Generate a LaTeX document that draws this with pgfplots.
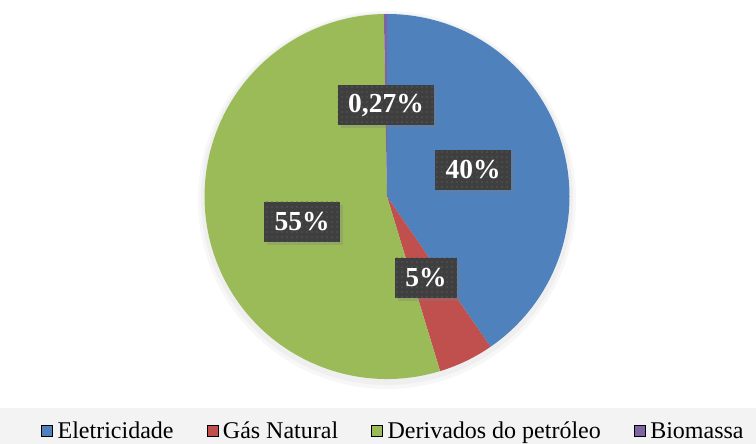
\documentclass[border=0pt]{standalone}
\usepackage{pgfplots}
\pgfplotsset{compat=1.18}
\usepackage{pgfplotstable}
\usepackage{fontspec}
\setmainfont{Liberation Serif}
\usetikzlibrary{patterns.meta,shadows}
\definecolor{cEl}{HTML}{4F81BD}
\definecolor{cGas}{HTML}{C0504D}
\definecolor{cDer}{HTML}{9BBB59}
\definecolor{cBio}{HTML}{8064A2}
\definecolor{lblgray}{HTML}{3F3F3F}
\definecolor{dotgray}{HTML}{5A5A5A}
\definecolor{bandgray}{HTML}{F3F3F3}
\tikzdeclarepattern{
  name=bigdots,
  type=uncolored,
  bottom left={(0pt,0pt)},
  top right={(5pt,5pt)},
  tile size={(5pt,5pt)},
  code={\fill (1.5pt,1.5pt) rectangle (3pt,3pt);}
}
\pgfplotstableread{
name value
Eletricidade 40.4
GasNatural 4.9
Derivados 54.43
Biomassa 0.27
}\piedata
\begin{document}
\begin{tikzpicture}
\pgfplotstablegetelem{0}{value}\of\piedata \let\vA\pgfplotsretval
\pgfplotstablegetelem{1}{value}\of\piedata \let\vB\pgfplotsretval
\pgfplotstablegetelem{2}{value}\of\piedata \let\vC\pgfplotsretval
\pgfplotstablegetelem{3}{value}\of\piedata \let\vD\pgfplotsretval
\pgfmathsetmacro\aA{90}
\pgfmathsetmacro\aB{\aA-3.6*\vA}
\pgfmathsetmacro\aC{\aB-3.6*\vB}
\pgfmathsetmacro\aD{\aC-3.6*\vC}
\pgfmathsetmacro\aE{\aD-3.6*\vD}
\tikzset{lbl/.style={fill=lblgray, text=white,
    font=\fontsize{27.5}{30}\selectfont\bfseries,
    inner xsep=10.5pt, minimum height=40pt,
    drop shadow={opacity=0.3, shadow xshift=3pt, shadow yshift=-3pt},
    postaction={pattern={bigdots}, pattern color=dotgray}}}
\begin{axis}[
  scale only axis, width=756pt, height=444pt,
  xmin=0, xmax=756, ymin=0, ymax=444,
  axis lines=none, clip=false,
  legend columns=4,
  legend style={draw=none, fill=none, at={(axis cs:41,13)}, anchor=west,
    inner sep=0pt, font=\fontsize{24}{28}\selectfont,
    nodes={inner sep=0pt},
    /tikz/every odd column/.style={column sep=5pt},
    /tikz/every even column/.style={column sep=33pt}},
  legend image code/.code={\fill[#1] (0pt,-5.5pt) rectangle (11pt,5.5pt);},
]
\fill[bandgray] (axis cs:0,0) rectangle (axis cs:756,36);
% soft shadow of the pie
\fill[black, opacity=0.03] (axis cs:387,244) circle[radius=189pt];
\fill[black, opacity=0.03] (axis cs:387,245) circle[radius=186pt];
\fill[cEl]  (axis cs:387,247.5) -- ++(\aA:182.5pt) arc[start angle=\aA, end angle=\aB, radius=182.5pt] -- cycle;
\fill[cGas] (axis cs:387,247.5) -- ++(\aB:182.5pt) arc[start angle=\aB, end angle=\aC, radius=182.5pt] -- cycle;
\fill[cDer] (axis cs:387,247.5) -- ++(\aC:182.5pt) arc[start angle=\aC, end angle=\aD, radius=182.5pt] -- cycle;
\fill[cBio] (axis cs:387,247.5) -- ++(\aD:182.5pt) arc[start angle=\aD, end angle=\aE, radius=182.5pt] -- cycle;
\node[lbl] at (axis cs:386,339) {0,27\%};
\node[lbl] at (axis cs:473,274) {40\%};
\node[lbl] at (axis cs:302,222) {55\%};
\node[lbl] at (axis cs:426,166) {5\%};
\addlegendimage{fill=cEl}
\addlegendentry{Eletricidade}
\addlegendimage{fill=cGas}
\addlegendentry{Gás Natural}
\addlegendimage{fill=cDer}
\addlegendentry{Derivados do petróleo}
\addlegendimage{fill=cBio}
\addlegendentry{Biomassa}
\end{axis}
\pgfresetboundingbox
\path[use as bounding box] (current axis.south west) rectangle (current axis.north east);
\end{tikzpicture}
\end{document}
